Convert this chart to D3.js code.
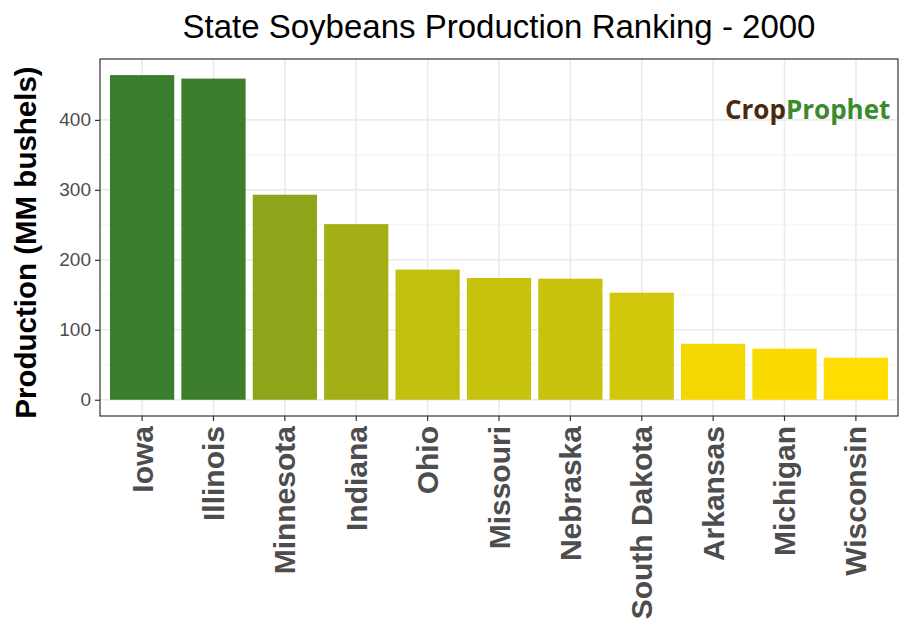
<!DOCTYPE html>
<html><head><meta charset="utf-8">
<script src="https://cdn.jsdelivr.net/npm/d3@7"></script>
<style>body{margin:0;background:#fff}text{font-family:Arial,"Liberation Sans",sans-serif}</style>
</head><body><div id="chart"></div>
<script>
const states = ['Iowa','Illinois','Minnesota','Indiana','Ohio','Missouri','Nebraska','South Dakota','Arkansas','Michigan','Wisconsin'];
const production = [464, 459, 293, 251, 186, 174, 173, 153, 80, 73, 60];
const yTicks = [0, 100, 200, 300, 400];

const width = 914, height = 640;
const margin = { top: 59, right: 16, bottom: 224, left: 100 };

const svg = d3.select('#chart').append('svg').attr('width', width).attr('height', height);

const x = d3.scaleBand().domain(states).range([margin.left, width - margin.right]).paddingInner(0.1).paddingOuter(0.14);
const y = d3.scaleLinear().domain([-23.2, 487]).range([height - margin.bottom, margin.top]);
const color = d3.scaleLinear().domain([d3.min(production), d3.max(production)]).range(['#ffdd00', '#3a7d2c']);

const g = svg.append('g');
// grid
const minor = yTicks.slice(0, -1).map(d => d + 50);
g.selectAll('.minor').data(minor).enter().append('line')
  .attr('x1', margin.left).attr('x2', width - margin.right)
  .attr('y1', d => y(d)).attr('y2', d => y(d)).attr('stroke', '#f0f0f0').attr('stroke-width', 0.8);
g.selectAll('.major').data(yTicks).enter().append('line')
  .attr('x1', margin.left).attr('x2', width - margin.right)
  .attr('y1', d => y(d)).attr('y2', d => y(d)).attr('stroke', '#ebebeb').attr('stroke-width', 1.6);
g.selectAll('.vgrid').data(states).enter().append('line')
  .attr('x1', d => x(d) + x.bandwidth() / 2).attr('x2', d => x(d) + x.bandwidth() / 2)
  .attr('y1', margin.top).attr('y2', height - margin.bottom).attr('stroke', '#ebebeb').attr('stroke-width', 1.6);

// bars
g.selectAll('rect.bar').data(states).enter().append('rect')
  .attr('x', d => x(d)).attr('width', x.bandwidth())
  .attr('y', (d, i) => y(production[i])).attr('height', (d, i) => y(0) - y(production[i]))
  .attr('fill', (d, i) => color(production[i]));

// panel border
svg.append('rect').attr('x', margin.left).attr('y', margin.top)
  .attr('width', width - margin.left - margin.right).attr('height', height - margin.top - margin.bottom)
  .attr('fill', 'none').attr('stroke', '#333').attr('stroke-width', 1.2);

// y axis
const ya = svg.append('g').attr('transform', `translate(${margin.left},0)`)
  .call(d3.axisLeft(y).tickValues(yTicks).tickSize(5).tickPadding(4));
ya.select('.domain').remove();
ya.selectAll('line').attr('stroke', '#333').attr('stroke-width', 1.2);
ya.selectAll('text').attr('font-size', 19).attr('fill', '#4d4d4d').style('font-family', 'Arial,"Liberation Sans",sans-serif');

// x axis
const xa = svg.append('g').attr('transform', `translate(0,${height - margin.bottom})`)
  .call(d3.axisBottom(x).tickSize(5).tickSizeOuter(0));
xa.select('.domain').remove();
xa.selectAll('line').attr('stroke', '#333').attr('stroke-width', 1.2);
xa.selectAll('text').attr('font-size', 30).attr('font-weight', 'bold').attr('fill', '#4d4d4d')
  .style('font-family', 'Arial,"Liberation Sans",sans-serif')
  .attr('transform', 'rotate(-90)').attr('text-anchor', 'end').attr('x', -10).attr('y', 0).attr('dy', '0.35em');

// titles
svg.append('text').attr('x', (margin.left + width - margin.right) / 2).attr('y', 38)
  .attr('text-anchor', 'middle').attr('font-size', 33).text('State Soybeans Production Ranking - 2000');
svg.append('text').attr('transform', `translate(36,${(margin.top + height - margin.bottom) / 2 + 5}) rotate(-90)`)
  .attr('text-anchor', 'middle').attr('font-size', 29.5).attr('font-weight', 'bold').text('Production (MM bushels)');

// logo
const logo = svg.append('text').attr('x', 725).attr('y', 119).attr('font-size', 26).attr('font-weight', 'bold')
  .style('font-family', '"Open Sans",sans-serif');
logo.append('tspan').attr('fill', '#4a2a0c').text('Crop');
logo.append('tspan').attr('fill', '#3a8a2e').text('Prophet');
</script></body></html>
